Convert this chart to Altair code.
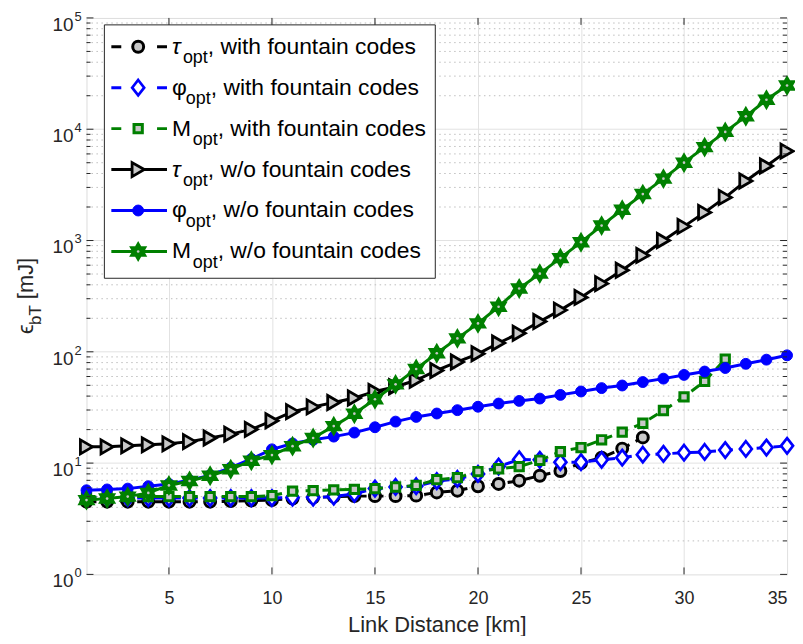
import altair as alt
import pandas as pd

# ---------------- data ----------------
km = list(range(1, 36))

tau_with = [4.5, 4.5, 4.5, 4.5, 4.5, 4.5, 4.5, 4.55, 4.6, 4.65,
            4.8, 4.9, 5.0, 5.05, 5.05, 5.05, 5.1, 5.45, 5.65, 6.2,
            6.5, 6.95, 7.7, 8.5, 10.0, 11.2, 13.5, 17.0]
phi_with = [4.9, 4.85, 4.85, 4.85, 4.85, 4.85, 4.85, 4.85, 4.85, 4.85,
            4.9, 4.9, 5.0, 5.3, 5.9, 6.1, 6.2, 6.9, 7.2, 8.0,
            9.3, 10.8, 10.7, 10.2, 10.2, 10.7, 11.2, 11.9, 12.1, 12.4,
            12.6, 13.1, 13.4, 13.8, 14.3]
M_with = [4.9, 5.0, 5.0, 5.0, 5.0, 5.0, 5.0, 5.0, 5.0, 5.1,
          5.6, 5.65, 5.75, 5.8, 5.9, 6.1, 6.3, 7.1, 7.4, 8.4,
          8.9, 9.3, 10.6, 12.7, 13.8, 16.2, 19.0, 22.8, 29.7, 39.4,
          54.3, 86.0]
tau_wo = [14.0, 14.0, 14.3, 14.6, 14.9, 15.6, 16.8, 18.2, 20.1, 24.0,
          29.0, 32.0, 35.0, 38.5, 44.0, 48.5, 55.5, 68.0, 81.0, 96.0,
          120.0, 147.0, 187.0, 237.0, 308.0, 410.0, 540.0, 735.0, 1000.0, 1340.0,
          1790.0, 2440.0, 3430.0, 4670.0, 6360.0]
phi_wo = [5.7, 5.8, 5.9, 6.2, 6.5, 7.0, 7.8, 9.1, 10.9, 13.3,
          15.0, 16.2, 17.3, 18.8, 21.0, 23.6, 26.0, 27.9, 29.9, 32.1,
          34.3, 36.2, 38.0, 41.0, 44.0, 47.2, 49.8, 53.5, 57.4, 62.0,
          66.5, 71.5, 78.0, 85.0, 93.0]
M_wo = [4.65, 4.8, 5.0, 5.4, 6.3, 6.9, 7.7, 8.8, 10.5, 11.8,
        14.2, 16.8, 21.5, 27.8, 37.5, 51.0, 70.0, 97.0, 132.0, 180.0,
        254.0, 371.0, 504.0, 695.0, 966.0, 1362.0, 1891.0, 2613.0, 3597.0, 5004.0,
        6905.0, 9463.0, 13060.0, 18400.0, 24700.0]

legend_symbols = ["τ", "φ", "M", "τ", "φ", "M"]
legend_suffix = [", with fountain codes", ", with fountain codes", ", with fountain codes",
                 ", w/o fountain codes", ", w/o fountain codes", ", w/o fountain codes"]
x_ticks = [5, 10, 15, 20, 25, 30, 35]
decades = [0, 1, 2, 3, 4, 5]

# ---------------- styling ----------------
W, H = 705, 560
FONT = "Liberation Sans"
AX = "#262626"
GFILL = "#c8c8c8"
BLACK, BLUE, GREEN = "#000000", "#0000ff", "#008000"
HEX = ("M0,-1L0.2887,-0.5L0.866,-0.5L0.577,0L0.866,0.5L0.2887,0.5L0,1"
       "L-0.2887,0.5L-0.866,0.5L-0.577,0L-0.866,-0.5L-0.2887,-0.5Z")
DIAM = "M0,-1L0.78,0L0,1L-0.78,0Z"

specs = [
    dict(vals=tau_with, color=BLACK, dash=True, shape="circle", size=121, fill=GFILL, sw=3, dot=False),
    dict(vals=phi_with, color=BLUE, dash=True, shape=DIAM, size=240, fill="#ffffff", sw=2.7, dot=False),
    dict(vals=M_with, color=GREEN, dash=True, shape="square", size=70, fill=GFILL, sw=3, dot=False),
    dict(vals=tau_wo, color=BLACK, dash=False, shape="triangle-right", size=200, fill=GFILL, sw=2.8, dot=False),
    dict(vals=phi_wo, color=BLUE, dash=False, shape="circle", size=120, fill=BLUE, sw=1, dot=False),
    dict(vals=M_wo, color=GREEN, dash=False, shape=HEX, size=290, fill=GREEN, sw=2, dot=True),
]

xs = alt.Scale(domain=[1, 35], nice=False, zero=False)
ys = alt.Scale(type="log", domain=[1, 100000], nice=False)
x_axis = alt.Axis(values=x_ticks, grid=True, gridColor="#e2e2e2", gridWidth=1,
                  domain=False, ticks=False, labelFont=FONT, labelFontSize=18,
                  labelColor=AX, labelPadding=15, title="Link Distance [km]",
                  titleFont=FONT, titleFontSize=22, titleFontWeight="normal",
                  titleColor=AX, titlePadding=7)
X = alt.X("x:Q", scale=xs, axis=x_axis)
Y = alt.Y("y:Q", scale=ys, axis=None)

layers = []

# grid lines (horizontal)
minor_vals = [m * 10 ** k for k in range(5) for m in range(2, 10)]
major_vals = [10 ** k for k in decades]
layers.append(alt.Chart(pd.DataFrame({"y": minor_vals})).mark_rule(
    stroke="#bdbdbd", strokeWidth=1, strokeDash=[1.5, 3.5]).encode(
    y=Y, x=alt.value(0), x2=alt.value(W)))
layers.append(alt.Chart(pd.DataFrame({"y": major_vals[1:5]})).mark_rule(
    stroke="#e2e2e2", strokeWidth=1).encode(y=Y, x=alt.value(0), x2=alt.value(W)))


def marker_layers(chart_src, sp, enc):
    out = [chart_src.mark_point(
        shape=sp["shape"], size=sp["size"], filled=True, fill=sp["fill"],
        stroke=sp["color"], strokeWidth=sp["sw"], opacity=1).encode(**enc)]
    if sp["dot"]:
        out.append(chart_src.mark_point(
            shape="circle", size=7, filled=True, fill=GFILL, strokeWidth=0,
            opacity=1).encode(**enc))
    return out


# data series
for sp in specs:
    d = pd.DataFrame({"x": km[:len(sp["vals"])], "y": sp["vals"]})
    lkw = dict(color=sp["color"], strokeWidth=3)
    if sp["dash"]:
        lkw["strokeDash"] = [10, 7]
    layers.append(alt.Chart(d).mark_line(**lkw).encode(x=X, y=Y))
    layers.extend(marker_layers(alt.Chart(d), sp, dict(x=X, y=Y)))

# inward ticks on all four sides
ydf_major = pd.DataFrame({"y": major_vals})
ydf_minor = pd.DataFrame({"y": minor_vals})
for df_, ln in ((ydf_major, 7), (ydf_minor, 4)):
    layers.append(alt.Chart(df_).mark_rule(stroke=AX, strokeWidth=1).encode(
        y=Y, x=alt.value(0), x2=alt.value(ln)))
    layers.append(alt.Chart(df_).mark_rule(stroke=AX, strokeWidth=1).encode(
        y=Y, x=alt.value(W - ln), x2=alt.value(W)))
xdf = pd.DataFrame({"x": x_ticks[:-1]})
layers.append(alt.Chart(xdf).mark_rule(stroke=AX, strokeWidth=1).encode(
    x=X, y=alt.value(H - 7), y2=alt.value(H)))
layers.append(alt.Chart(xdf).mark_rule(stroke=AX, strokeWidth=1).encode(
    x=X, y=alt.value(0), y2=alt.value(7)))

# y tick labels 10^k
dec_df = pd.DataFrame({"y": major_vals, "base": ["10"] * len(decades),
                       "exp": [str(k) for k in decades]})
layers.append(alt.Chart(dec_df).mark_text(
    align="right", baseline="alphabetic", font=FONT, fontSize=19, color=AX, dy=13).encode(
    y=Y, x=alt.value(-13), text="base:N"))
layers.append(alt.Chart(dec_df).mark_text(
    align="left", baseline="alphabetic", font=FONT, fontSize=13, color=AX, dy=3).encode(
    y=Y, x=alt.value(-12), text="exp:N"))

one = pd.DataFrame({"a": [0]})
# y title: epsilon_bT [mJ]
layers.append(alt.Chart(one).mark_text(
    text="ϵ", angle=270, align="left", baseline="alphabetic", font=FONT, fontSize=22,
    color=AX).encode(x=alt.value(-54), y=alt.value(318)))
layers.append(alt.Chart(one).mark_text(
    text="bT", angle=270, align="left", baseline="alphabetic", font=FONT, fontSize=17,
    color=AX).encode(x=alt.value(-46), y=alt.value(309)))
layers.append(alt.Chart(one).mark_text(
    text="[mJ]", angle=270, align="left", baseline="alphabetic", font=FONT, fontSize=22,
    color=AX).encode(x=alt.value(-54), y=alt.value(283)))

# legend
layers.append(alt.Chart(one).mark_rect(fill="#ffffff", stroke=AX, strokeWidth=1).encode(
    x=alt.value(18), x2=alt.value(351), y=alt.value(7), y2=alt.value(262)))
sub_x = {"τ": 97, "φ": 100, "M": 107}
for i, sp in enumerate(specs):
    cy = 29 + 41.2 * i
    sym = legend_symbols[i]
    rkw = dict(stroke=sp["color"], strokeWidth=3)
    if sp["dash"]:
        rkw["strokeDash"] = [10, 36]
    layers.append(alt.Chart(one).mark_rule(**rkw).encode(
        x=alt.value(25), x2=alt.value(81), y=alt.value(cy)))
    layers.extend(marker_layers(alt.Chart(one), sp, dict(x=alt.value(52), y=alt.value(cy))))
    tkw = dict(fontStyle="italic") if sym == "τ" else {}
    layers.append(alt.Chart(one).mark_text(
        text=sym, align="left", baseline="alphabetic", font=FONT, fontSize=23,
        color="#000000", **tkw).encode(x=alt.value(86), y=alt.value(cy + 7)))
    layers.append(alt.Chart(one).mark_text(
        text="opt", align="left", baseline="alphabetic", font=FONT, fontSize=18,
        color="#000000").encode(x=alt.value(sub_x[sym]), y=alt.value(cy + 16.5)))
    layers.append(alt.Chart(one).mark_text(
        text=legend_suffix[i], align="left", baseline="alphabetic", font=FONT,
        fontSize=23, color="#000000").encode(
        x=alt.value(sub_x[sym] + 25), y=alt.value(cy + 7)))

chart = alt.layer(*layers).properties(
    width=W, height=H,
    padding={"left": 79, "top": 8, "right": 8, "bottom": 60},
    autosize=alt.AutoSizeParams(type="none"),
).configure_view(stroke=AX, strokeWidth=1).configure(font=FONT)

chart.save("out.html", embed_options={"renderer": "svg", "actions": False})
